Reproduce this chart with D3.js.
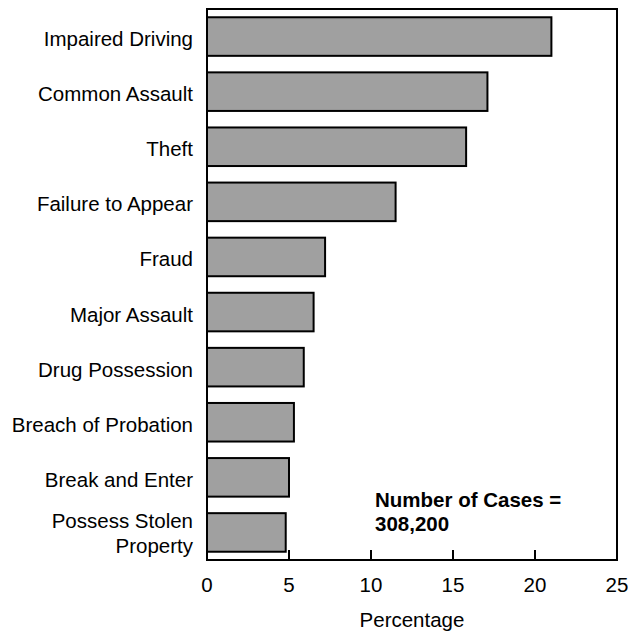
<!DOCTYPE html>
<html>
<head>
<meta charset="utf-8">
<script src="https://cdn.jsdelivr.net/npm/d3@7"></script>
<style>
  body { margin: 0; background: #fff; }
  svg text { font-family: "Liberation Sans", Arial, sans-serif; fill: #000; }
</style>
</head>
<body>
<div id="chart"></div>
<script>
// offence categories, top to bottom
const categories = [
  "Impaired Driving", "Common Assault", "Theft", "Failure to Appear", "Fraud",
  "Major Assault", "Drug Possession", "Breach of Probation", "Break and Enter",
  "Possess Stolen Property"
];
// percentage of cases
const values = [21.0, 17.1, 15.8, 11.5, 7.2, 6.5, 5.9, 5.3, 5.0, 4.8];
const xTicks = [0, 5, 10, 15, 20, 25];
// label line breaks
const labelLines = {
  "Possess Stolen Property": ["Possess Stolen", "Property"]
};

const width = 628, height = 631;
const margin = { top: 9, right: 11, bottom: 71, left: 207 };
const innerW = width - margin.left - margin.right;
const innerH = height - margin.top - margin.bottom;
const fs = 20.5;

const svg = d3.select("#chart").append("svg")
  .attr("width", width)
  .attr("height", height);

const g = svg.append("g")
  .attr("transform", `translate(${margin.left},${margin.top})`);

const x = d3.scaleLinear().domain([0, 25]).range([0, innerW]);
const y = d3.scaleBand().domain(categories).range([0, innerH]).paddingInner(0.3).paddingOuter(0.15);

// bars
g.selectAll("rect.bar")
  .data(categories)
  .enter().append("rect")
  .attr("class", "bar")
  .attr("x", 0)
  .attr("y", d => y(d))
  .attr("width", (d, i) => x(values[i]))
  .attr("height", y.bandwidth())
  .attr("fill", "#a0a0a0")
  .attr("stroke", "#000")
  .attr("stroke-width", 2);

// frame
g.append("rect")
  .attr("x", 0).attr("y", 0)
  .attr("width", innerW).attr("height", innerH)
  .attr("fill", "none")
  .attr("stroke", "#000")
  .attr("stroke-width", 2);

// x ticks (pointing inward)
g.selectAll("line.tick")
  .data(xTicks.slice(1, -1))
  .enter().append("line")
  .attr("class", "tick")
  .attr("x1", d => x(d)).attr("x2", d => x(d))
  .attr("y1", innerH).attr("y2", innerH - 10)
  .attr("stroke", "#000")
  .attr("stroke-width", 2);

g.selectAll("text.xlab")
  .data(xTicks)
  .enter().append("text")
  .attr("class", "xlab")
  .attr("x", d => x(d))
  .attr("y", innerH + 32)
  .attr("text-anchor", "middle")
  .attr("font-size", fs)
  .text(d => d);

// category labels
const labels = g.selectAll("text.ylab")
  .data(categories)
  .enter().append("text")
  .attr("class", "ylab")
  .attr("text-anchor", "end")
  .attr("font-size", fs);

labels.each(function(d) {
  const lines = labelLines[d] || [d];
  const cy = y(d) + y.bandwidth() / 2;
  const lh = 25.5;
  const off = lines.length > 1 ? 8 : 9.5;
  const t = d3.select(this);
  lines.forEach((ln, i) => {
    t.append("tspan")
      .attr("x", -14)
      .attr("y", cy + off + (i - (lines.length - 1) / 2) * lh)
      .text(ln);
  });
});

// axis title
g.append("text")
  .attr("x", innerW / 2)
  .attr("y", innerH + 67)
  .attr("text-anchor", "middle")
  .attr("font-size", fs)
  .text("Percentage");

// note
g.append("text")
  .attr("y", 507 - margin.top)
  .attr("font-size", fs)
  .attr("font-weight", "bold")
  .selectAll("tspan")
  .data(["Number of Cases =", "308,200"])
  .enter().append("tspan")
  .attr("x", 375 - margin.left)
  .attr("dy", (d, i) => i ? 23.5 : 0)
  .text(d => d);
</script>
</body>
</html>
